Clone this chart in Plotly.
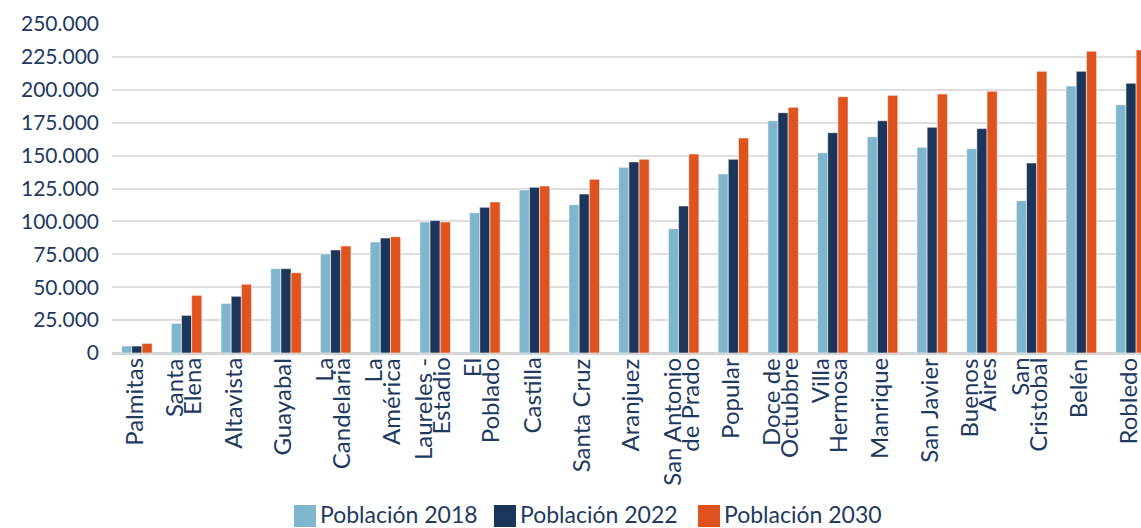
import plotly.graph_objects as go

categories = ["Palmitas", "Santa Elena", "Altavista", "Guayabal", "La Candelaria",
              "La América", "Laureles - Estadio", "El Poblado", "Castilla", "Santa Cruz",
              "Aranjuez", "San Antonio de Prado", "Popular", "Doce de Octubbre",
              "Villa Hermosa", "Manrique", "San Javier", "Buenos Aires", "San Cristobal",
              "Belén", "Robledo"]
tick_labels = ["Palmitas", "Santa\nElena", "Altavista", "Guayabal", "La\nCandelaria",
               "La\nAmérica", "Laureles -\nEstadio", "El\nPoblado", "Castilla", "Santa Cruz",
               "Aranjuez", "San Antonio\nde Prado", "Popular", "Doce de\nOctubbre",
               "Villa\nHermosa", "Manrique", "San Javier", "Buenos\nAires", "San\nCristobal",
               "Belén", "Robledo"]
pob_2018 = [5300, 22500, 37700, 64100, 75200, 84400, 99600, 106600, 123900, 112700, 141100,
            94500, 136000, 176500, 152200, 164400, 156300, 155300, 115700, 202900, 188700]
pob_2022 = [5300, 28600, 43100, 64100, 78300, 87400, 100600, 110700, 125900, 120800, 145200,
            111700, 147200, 182600, 167400, 176500, 171500, 170500, 144400, 214100, 205000]
pob_2030 = [7300, 43800, 52200, 61000, 81300, 88400, 99600, 114800, 126900, 132000, 147200,
            151200, 163400, 186700, 194800, 195800, 196800, 198900, 214100, 229300, 230300]
series_names = ["Población 2018", "Población 2022", "Población 2030"]
y_ticks = [0, 25000, 50000, 75000, 100000, 125000, 150000, 175000, 200000, 225000, 250000]

colors = ["#80b6cd", "#1c365b", "#df531e"]
text_color = "#1e3a5f"
FONT = "Lato, 'Noto Sans', sans-serif"

W, H = 1141, 528
ML, MR, MT, MB = 112, 0, 24, 175
PW, PH = W - ML - MR, H - MT - MB

fig = go.Figure()
for name, vals, col in zip(series_names, [pob_2018, pob_2022, pob_2030], colors):
    fig.add_trace(go.Bar(
        x=categories, y=vals, name=name, marker_color=col,
        marker_line=dict(color="rgba(255,255,255,0.55)", width=1),
        showlegend=False,
    ))

annotations = []
for cat, lab in zip(categories, tick_labels):
    lines = lab.split("\n")
    n = len(lines)
    for k, line in enumerate(lines):
        annotations.append(dict(
            x=cat, xref="x", y=0, yref="paper", yshift=-4,
            xanchor="center", yanchor="top", textangle=-90,
            xshift=(k - (n - 1) / 2) * 18 - 4, borderpad=0,
            text=line, showarrow=False,
            font=dict(family=FONT, size=24, color=text_color),
        ))

# manual legend with large swatches
def px_x(px):
    return (px - ML) / PW

def px_y(py):
    return (H - MB - py) / PH

shapes = []
legend_x = [294, 494, 698]
for name, col, lx in zip(series_names, colors, legend_x):
    shapes.append(dict(type="rect", xref="paper", yref="paper",
                       x0=px_x(lx), x1=px_x(lx + 22), y0=px_y(527), y1=px_y(505),
                       fillcolor=col, line=dict(width=0)))
    annotations.append(dict(x=px_x(lx + 25), y=px_y(514), xref="paper", yref="paper",
                            xanchor="left", yanchor="middle", text=name, showarrow=False,
                            borderpad=0,
                            font=dict(family=FONT, size=23, color=text_color)))

fig.update_layout(
    width=W, height=H, autosize=False,
    margin=dict(l=ML, r=MR, t=MT, b=MB, pad=0),
    paper_bgcolor="white", plot_bgcolor="white",
    barmode="group", bargap=0.385, bargroupgap=0,
    separators=",.",
    font=dict(family=FONT, color=text_color),
    annotations=annotations, shapes=shapes,
    showlegend=False,
)
fig.update_xaxes(
    type="category", range=[-0.5, 20.2], showticklabels=False,
    showgrid=False, showline=True, linecolor="#d4d4d4", linewidth=2, ticks="",
)
fig.update_yaxes(
    range=[0, 250000], tickvals=y_ticks, tickformat=",d",
    showgrid=True, gridcolor="#dedede", gridwidth=1.5,
    zeroline=True, zerolinecolor="#d4d4d4", zerolinewidth=2,
    showline=False, ticks="", ticklabelstandoff=12,
    tickfont=dict(family=FONT, size=21, color=text_color),
)

fig.write_html("out.html", config={"displayModeBar": False},
               post_script="document.body.style.margin='0px';")
